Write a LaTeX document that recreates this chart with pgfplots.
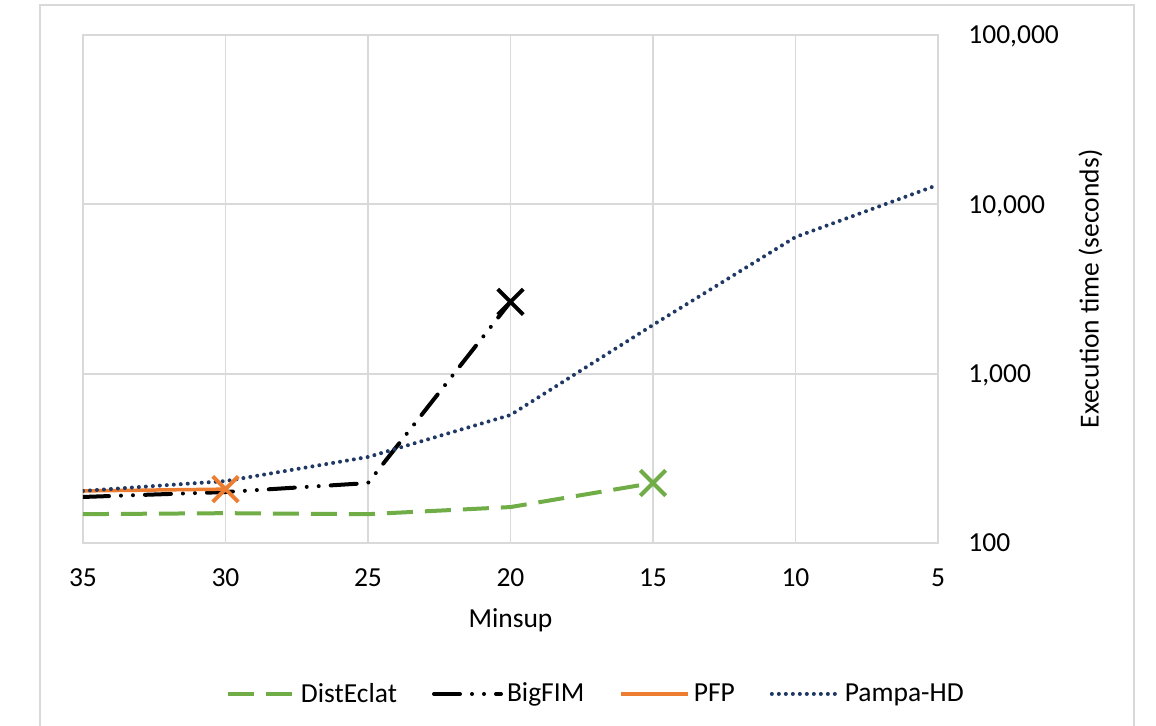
\documentclass[border=0pt]{standalone}
\usepackage{pgfplots}
\pgfplotsset{compat=1.18}
\usepackage{fontspec}
\setmainfont{Carlito}
\definecolor{cgreen}{HTML}{70AD47}
\definecolor{corange}{HTML}{ED7D31}
\definecolor{cnavy}{HTML}{203864}
\definecolor{cgrid}{HTML}{D9D9D9}
\newcommand{\cf}{\fontsize{13.75}{16}\selectfont}
\begin{document}
\begin{tikzpicture}
\useasboundingbox (-41.5pt,-91.5pt) rectangle (536.5pt,271.5pt);
\draw[cgrid, line width=1.25pt] (-21.5pt,-91.5pt) -- (-21.5pt,269pt) -- (525.5pt,269pt) -- (525.5pt,-91.5pt);
\begin{axis}[
  scale only axis, width=427.5pt, height=254pt,
  at={(0pt,0pt)}, anchor=south west,
  x dir=reverse, xmin=5, xmax=35,
  xtick={5,10,15,20,25,30,35}, xticklabels={5,10,15,20,25,30,35},
  ymode=log, ymin=100, ymax=100000,
  ytick={100,1000,10000,100000}, yticklabels={100,{1,000},{10,000},{100,000}},
  yticklabel pos=right,
  major tick length=0pt, minor tick length=0pt,
  grid=major, major grid style={cgrid, line width=0.9pt},
  axis line style={cgrid, line width=0.9pt},
  tick label style={font=\cf, text=black},
  xticklabel style={anchor=north, inner sep=0pt, yshift=-13pt, text height=8.7pt, text depth=0pt},
  yticklabel style={anchor=west, inner sep=0pt, xshift=15pt, text height=8.7pt, text depth=0pt},
  xlabel={Minsup},
  xlabel style={font=\cf, at={(axis description cs:0.5,-0.1673)}, anchor=base},
  ylabel={Execution time (seconds)},
  ylabel style={font=\cf, at={(axis description cs:1.188,0.5)}, anchor=base},
  legend style={at={(axis description cs:0.601,-0.2972)}, anchor=center, draw=none, fill=none, font=\cf,
    legend columns=4, /tikz/every even column/.append style={column sep=15.5pt},
    nodes={inner xsep=2pt, inner ysep=1pt}},
  legend image code/.code={\draw[#1] (0pt,0pt) -- (33.5pt,0pt);},
]
\addplot[cgreen, line width=2pt, dash pattern=on 13pt off 6pt] coordinates {(35,148)(30,150)(25,148)(20,163)(15,226)};
\addplot[cgreen, line width=2pt, mark=x, mark size=9pt, only marks, forget plot] coordinates {(15,226)};
\addplot[black, line width=2pt, line cap=round, dash pattern=on 13pt off 6pt on 0pt off 6pt on 0pt off 6pt] coordinates {(35,187)(30,200)(25,226)(20,2655)};
\addplot[black, line width=2pt, mark=x, mark size=9pt, only marks, forget plot] coordinates {(20,2655)};
\addplot[corange, line width=1.75pt] coordinates {(35,203)(30,208)};
\addplot[corange, line width=2pt, mark=x, mark size=9pt, only marks, forget plot] coordinates {(30,208)};
\addplot[cnavy, line width=2pt, line cap=round, dash pattern=on 0pt off 3.5pt] coordinates {(35,203)(30,232)(25,322)(20,570)(15,1940)(10,6410)(5,13030)};
\legend{DistEclat,BigFIM,PFP,Pampa-HD}
\end{axis}
\end{tikzpicture}
\end{document}
